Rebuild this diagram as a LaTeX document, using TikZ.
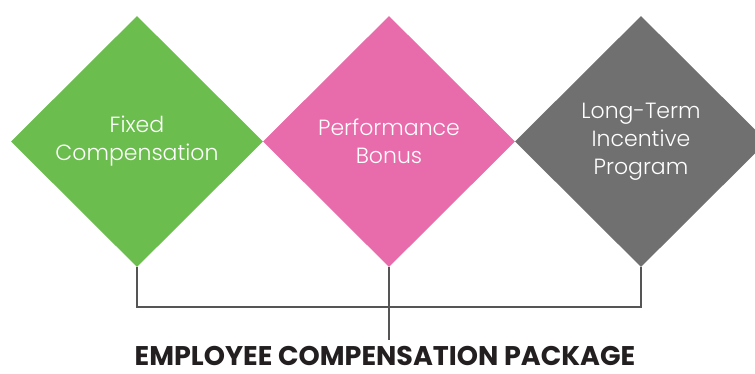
\documentclass[tikz,border=0pt]{standalone}
\usepackage{fontspec}
\setmainfont{Poppins}
\newfontfamily\lightfont{Poppins Light}
\usetikzlibrary{shapes.geometric}
\definecolor{cgreen}{HTML}{6BBE4E}
\definecolor{cpink}{HTML}{E86BAB}
\definecolor{cgray}{HTML}{6F706F}
\definecolor{cline}{HTML}{555555}
\definecolor{ctext}{HTML}{231F20}
\tikzset{
  dia/.style={diamond, aspect=1, minimum width=252pt, minimum height=251pt, inner sep=0pt,
    text=white, align=center, font=\lightfont\fontsize{22}{28}\selectfont},
  brk/.style={draw=cline, line width=1.3pt},
}
\begin{document}
\begin{tikzpicture}[x=1pt,y=-1pt]
\useasboundingbox (0,0) rectangle (755,374);
\node[dia, fill=cgreen] (g) at (137,141.5) {Fixed\\Compensation};
\node[dia, fill=cpink] (p) at (389,141.5) {Performance\\Bonus};
\node[dia, fill=cgray] (t) at (641,141.5) {Long-Term\\Incentive\\Program};
\coordinate (hb) at (389,307);
\coordinate (stem) at (389,340);
\draw[brk] (g.south) |- (hb) -| (t.south);
\draw[brk] (p.south) -- (stem);
\node[font=\bfseries\fontsize{27}{30}\selectfont, text=ctext, anchor=base, inner sep=0pt, text depth=0pt] (title) at (385,365) {EMPLOYEE COMPENSATION PACKAGE};
\end{tikzpicture}
\end{document}
